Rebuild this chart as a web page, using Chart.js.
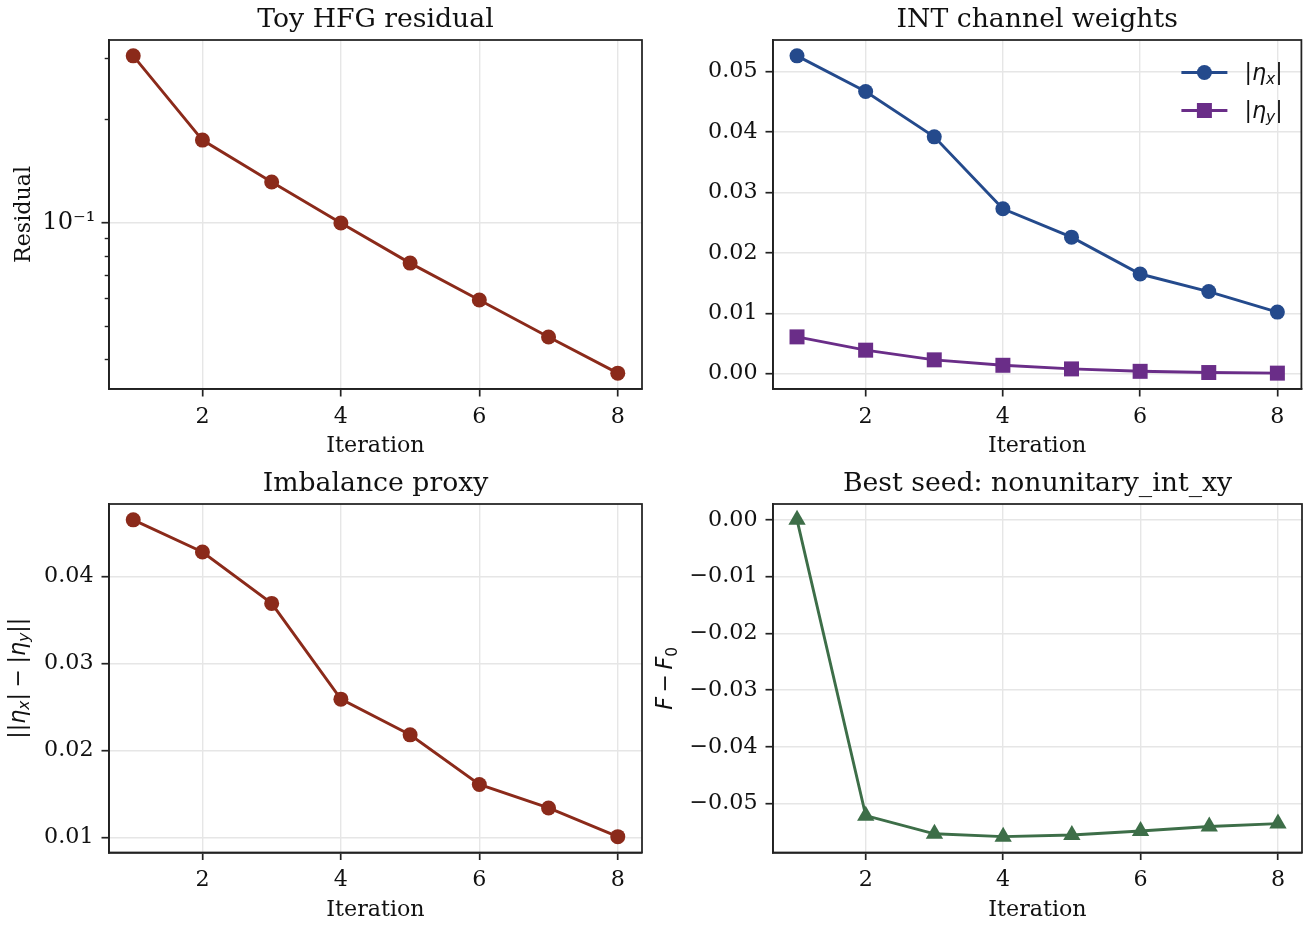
<!DOCTYPE html>
<html><head><meta charset="utf-8">
<script src="https://cdn.jsdelivr.net/npm/chart.js@4.4.1/dist/chart.umd.min.js"></script>
<style>
html,body{margin:0;padding:0;background:#fff;}
#wrap{position:relative;width:1312px;height:928px;overflow:hidden;background:#fff;}
canvas{position:absolute;}
</style></head><body>
<div id="wrap">
<canvas id="c1" width="656" height="464" style="left:0px;top:0px"></canvas>
<canvas id="c2" width="667" height="464" style="left:645px;top:0px"></canvas>
<canvas id="c3" width="656" height="464" style="left:0px;top:464px"></canvas>
<canvas id="c4" width="667" height="464" style="left:645px;top:464px"></canvas>
</div>
<script>
// ---- data ----
const iterations = [1, 2, 3, 4, 5, 6, 7, 8];
const residual   = [0.306, 0.174, 0.1314, 0.0998, 0.0763, 0.0596, 0.0465, 0.0365];
const etaX       = [0.0526, 0.0467, 0.0392, 0.0273, 0.0226, 0.0165, 0.0136, 0.0102];
const etaY       = [0.0061, 0.0039, 0.0023, 0.0014, 0.0008, 0.0004, 0.0002, 0.0001];
const imbalance  = [0.0465, 0.0428, 0.0369, 0.0259, 0.0218, 0.0161, 0.0134, 0.0101];
const deltaF     = [0.0, -0.0521, -0.0553, -0.0558, -0.0555, -0.0548, -0.0540, -0.0535];
const xTicks        = [2, 4, 6, 8];
const logMajorTicks = [0.1];
const logMinorTicks = [0.04, 0.05, 0.06, 0.07, 0.08, 0.09, 0.2, 0.3];
const etaTicks      = [0, 0.01, 0.02, 0.03, 0.04, 0.05];
const imbTicks      = [0.01, 0.02, 0.03, 0.04];
const dfTicks       = [0, -0.01, -0.02, -0.03, -0.04, -0.05];
const titles = ['Toy HFG residual', 'INT channel weights', 'Imbalance proxy', 'Best seed: nonunitary_int_xy'];

// ---- style ----
const SERIF = "'DejaVu Serif', serif";
const SANS = "'DejaVu Sans', sans-serif";
const FS = 22.2;
const TFS = 26.7;
const TXT = '#111111';
const SPINE = '#222222';
const GRID = '#e6e6e6';
const LW = 2.9;
const RED = '#8b2a1a', BLUE = '#244a8c', PURPLE = '#6a2d88', GREEN = '#3d6e48';

function linRange(vals) {
  const lo = Math.min(...vals), hi = Math.max(...vals), m = (hi - lo) * 0.05;
  return [lo - m, hi + m];
}
function logRange(vals) {
  const lo = Math.log10(Math.min(...vals)), hi = Math.log10(Math.max(...vals)), m = (hi - lo) * 0.05;
  return [Math.pow(10, lo - m), Math.pow(10, hi + m)];
}
const xr = linRange(iterations);
const pts = arr => iterations.map((x, i) => ({x: x, y: arr[i]}));
const fmt = v => (Math.abs(v) < 1e-12 ? '0.00' : v.toFixed(2)).replace('-', '\u2212');

function drawRich(ctx, segs, x, y, size, align, rotate) {
  ctx.save();
  ctx.translate(x, y);
  if (rotate) ctx.rotate(-Math.PI / 2);
  const parts = segs.map(s => {
    if (s.gap !== undefined) return {gap: true, w: s.gap * size};
    const fs = s.sub ? size * 0.7 : size;
    const font = (s.it ? 'italic ' : '') + fs + 'px ' + SANS;
    ctx.font = font;
    return {t: s.t, font: font, w: ctx.measureText(s.t).width, dy: s.sub ? size * 0.2 : 0};
  });
  const total = parts.reduce((a, p) => a + p.w, 0);
  let cx = align === 'center' ? -total / 2 : 0;
  ctx.textBaseline = 'alphabetic';
  ctx.textAlign = 'left';
  ctx.fillStyle = TXT;
  for (const p of parts) {
    if (!p.gap) { ctx.font = p.font; ctx.fillText(p.t, cx, p.dy); }
    cx += p.w;
  }
  ctx.restore();
}

const spines = {
  id: 'spines',
  afterDraw(chart) {
    const {ctx, chartArea: a} = chart;
    ctx.save();
    ctx.strokeStyle = SPINE;
    ctx.lineWidth = 1.75;
    ctx.strokeRect(a.left, a.top, a.right - a.left, a.bottom - a.top);
    ctx.restore();
  }
};

const gridOpt = {color: GRID, lineWidth: 1.4, tickLength: 7.5, tickColor: SPINE, tickWidth: 1.7};
function xAxis(h) {
  return {
    type: 'linear', min: xr[0], max: xr[1], position: 'bottom',
    afterBuildTicks: s => { s.ticks = xTicks.map(v => ({value: v})); },
    afterFit: s => { s.height = h; },
    grid: gridOpt,
    border: {color: SPINE, width: 1.75},
    ticks: {font: {family: SERIF, size: FS}, color: TXT, padding: 7, maxRotation: 0, autoSkip: false},
    title: {display: true, text: 'Iteration', color: TXT, font: {family: SERIF, size: FS}, padding: {top: 0, bottom: 4.7}}
  };
}
function yAxis(w, range, ticks, titleText) {
  return {
    type: 'linear', min: range[0], max: range[1], position: 'left',
    afterBuildTicks: s => { s.ticks = ticks.map(v => ({value: v})); },
    afterFit: s => { s.width = w; },
    grid: gridOpt,
    border: {color: SPINE, width: 1.75},
    ticks: {font: {family: SERIF, size: FS}, color: TXT, padding: 8, callback: v => fmt(v)},
    title: {display: !!titleText, text: titleText || '', color: TXT, font: {family: SERIF, size: FS}, padding: {top: 10.7, bottom: 0}}
  };
}
function titleOpt(text) {
  return {display: true, text: text, color: TXT, fullSize: false,
    font: {family: SERIF, size: TFS, weight: 'normal', lineHeight: 1.2}, padding: {top: 4.5, bottom: 3.46}};
}
function ds(arr, color, style, r) {
  return {data: pts(arr), borderColor: color, backgroundColor: color, borderWidth: LW,
    pointStyle: style, pointRadius: r, pointHoverRadius: r, pointBorderWidth: 0, pointBackgroundColor: color,
    tension: 0, clip: false};
}
const base = {responsive: false, animation: false, events: [], devicePixelRatio: 1};

// ---- chart 1: log residual ----
const lr = logRange(residual);
new Chart(document.getElementById('c1'), {
  type: 'line',
  data: {datasets: [ds(residual, RED, 'circle', 7.5)]},
  options: Object.assign({}, base, {
    layout: {padding: {left: 0, right: 14, top: 0, bottom: 0}},
    plugins: {legend: {display: false}, tooltip: {enabled: false}, title: titleOpt(titles[0])},
    scales: {
      x: xAxis(75),
      y: {
        type: 'logarithmic', min: lr[0], max: lr[1], position: 'left', weight: 1,
        afterBuildTicks: s => { s.ticks = logMajorTicks.map(v => ({value: v})); },
        afterFit: s => { s.width = 109; },
        grid: gridOpt,
        border: {color: SPINE, width: 1.75},
        ticks: {font: {family: SERIF, size: FS + 2}, color: TXT, padding: 6, callback: v => '10\u207B\u00B9'},
        title: {display: true, text: 'Residual', color: TXT, font: {family: SERIF, size: FS}, padding: {top: 10.7, bottom: 0}}
      },
      yMinor: {
        type: 'logarithmic', min: lr[0], max: lr[1], position: 'left', weight: 0,
        afterBuildTicks: s => { s.ticks = logMinorTicks.map(v => ({value: v})); },
        afterFit: s => { s.width = 0; },
        grid: {drawOnChartArea: false, tickLength: 4.3, tickColor: SPINE, tickWidth: 1.4, color: 'rgba(0,0,0,0)'},
        border: {display: false},
        ticks: {display: false}
      }
    }
  }),
  plugins: [spines]
});

// ---- chart 2: eta weights ----
const er = linRange(etaX.concat(etaY));
const legendItems = [
  {color: BLUE, style: 'circle', r: 7.5, segs: [{t: '|'}, {t: '\u03B7', it: true}, {t: 'x', it: true, sub: true}, {t: '|'}]},
  {color: PURPLE, style: 'rect', r: 10.6, segs: [{t: '|'}, {t: '\u03B7', it: true}, {t: 'y', it: true, sub: true}, {t: '|'}]}
];
new Chart(document.getElementById('c2'), {
  type: 'line',
  data: {datasets: [ds(etaX, BLUE, 'circle', 7.5), ds(etaY, PURPLE, 'rect', 10.6)]},
  options: Object.assign({}, base, {
    layout: {padding: {left: 0, right: 8, top: 0, bottom: 0}},
    plugins: {legend: {display: false}, tooltip: {enabled: false}, title: titleOpt(titles[1])},
    scales: {x: xAxis(75), y: yAxis(128, er, etaTicks, null)}
  }),
  plugins: [spines, {
    id: 'legendMath',
    afterDraw(chart) {
      const ctx = chart.ctx, a = chart.chartArea;
      legendItems.forEach((e, i) => {
        const y = a.top + 32.5 + i * 38;
        ctx.save();
        ctx.strokeStyle = e.color; ctx.lineWidth = LW;
        ctx.beginPath(); ctx.moveTo(a.right - 120, y); ctx.lineTo(a.right - 74, y); ctx.stroke();
        ctx.fillStyle = e.color;
        Chart.helpers.drawPoint(ctx, {pointStyle: e.style, radius: e.r, borderWidth: 0, rotation: 0}, a.right - 97, y);
        ctx.restore();
        drawRich(ctx, e.segs, a.right - 57, y + 7.5, FS, 'left', false);
      });
    }
  }]
});

// ---- chart 3: imbalance ----
const ir = linRange(imbalance);
new Chart(document.getElementById('c3'), {
  type: 'line',
  data: {datasets: [ds(imbalance, RED, 'circle', 7.5)]},
  options: Object.assign({}, base, {
    layout: {padding: {left: 0, right: 14, top: 0, bottom: 0}},
    plugins: {legend: {display: false}, tooltip: {enabled: false}, title: titleOpt(titles[2])},
    scales: {x: xAxis(75.5), y: yAxis(109, ir, imbTicks, null)}
  }),
  plugins: [spines, {
    id: 'ylabelMath',
    afterDraw(chart) {
      const a = chart.chartArea;
      drawRich(chart.ctx, [{t: '||'}, {t: '\u03B7', it: true}, {t: 'x', it: true, sub: true}, {t: '|'}, {gap: 0.25},
        {t: '\u2212'}, {gap: 0.25}, {t: '|'}, {t: '\u03B7', it: true}, {t: 'y', it: true, sub: true}, {t: '||'}],
        a.left - 84.5, (a.top + a.bottom) / 2, FS, 'center', true);
    }
  }]
});

// ---- chart 4: best seed ----
const dr = linRange(deltaF);
new Chart(document.getElementById('c4'), {
  type: 'line',
  data: {datasets: [ds(deltaF, GREEN, 'triangle', 10)]},
  options: Object.assign({}, base, {
    layout: {padding: {left: 0, right: 8, top: 0, bottom: 0}},
    plugins: {legend: {display: false}, tooltip: {enabled: false}, title: titleOpt(titles[3])},
    scales: {x: xAxis(75.5), y: yAxis(128, dr, dfTicks, null)}
  }),
  plugins: [spines, {
    id: 'ylabelMath',
    afterDraw(chart) {
      const a = chart.chartArea;
      drawRich(chart.ctx, [{t: 'F', it: true}, {gap: 0.2}, {t: '\u2212'}, {gap: 0.2}, {t: 'F', it: true}, {t: '0', sub: true}],
        a.left - 100.7, (a.top + a.bottom) / 2, FS, 'center', true);
    }
  }]
});
</script>
</body></html>
